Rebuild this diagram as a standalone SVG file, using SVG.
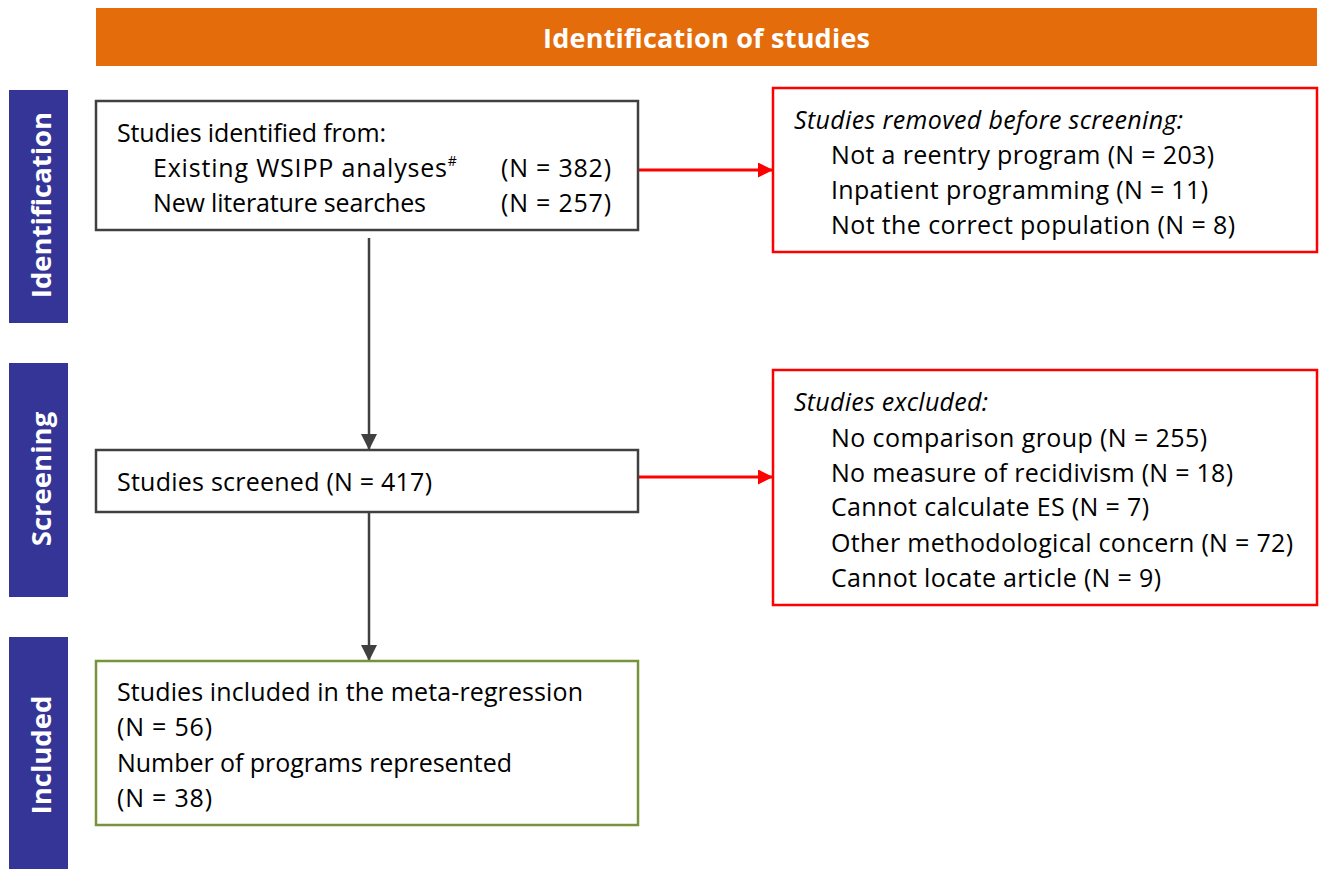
<svg xmlns="http://www.w3.org/2000/svg" width="1322" height="869" viewBox="0 0 1322 869">
<defs>
<style>
.t{font-family:"Open Sans","Noto Sans","DejaVu Sans",sans-serif;font-size:25px;fill:#000}
.i{font-style:italic}
.side{font-family:"Open Sans","Noto Sans","DejaVu Sans",sans-serif;font-size:27.5px;font-weight:bold;fill:#fff}
.hdr{font-family:"Open Sans","Noto Sans","DejaVu Sans",sans-serif;font-size:27px;font-weight:bold;fill:#fff}
.bar{fill:#353597}
.box{fill:#fff;stroke:#404040;stroke-width:2.5}
.rbox{fill:#fff;stroke:#ff0000;stroke-width:2.5}
.gbox{fill:#fff;stroke:#77933c;stroke-width:2.5}
.ga{stroke:#404040;stroke-width:2.5;fill:none}
.ra{stroke:#ff0000;stroke-width:3;fill:none}
</style>
<marker id="mg" viewBox="0 0 10 10" refX="10" refY="5" markerWidth="16" markerHeight="17" markerUnits="userSpaceOnUse" orient="auto"><path d="M0,0 L10,5 L0,10 z" fill="#404040"/></marker>
<marker id="mr" viewBox="0 0 10 10" refX="10" refY="5" markerWidth="16" markerHeight="15" markerUnits="userSpaceOnUse" orient="auto"><path d="M0,0 L10,5 L0,10 z" fill="#ff0000"/></marker>
</defs>
<rect width="1322" height="869" fill="#fff"/>
<g id="header">
<rect x="96" y="8" width="1221" height="58" fill="#e46c0a"/>
<text class="hdr" x="543" y="48" textLength="327">Identification of studies</text>
</g>
<g id="bar-identification">
<rect class="bar" x="9" y="90" width="59" height="233"/>
<text class="side" transform="translate(51,205) rotate(-90)" text-anchor="middle">Identification</text>
</g>
<g id="bar-screening">
<rect class="bar" x="9" y="363" width="59" height="234"/>
<text class="side" transform="translate(51,479) rotate(-90)" text-anchor="middle">Screening</text>
</g>
<g id="bar-included">
<rect class="bar" x="9" y="637" width="59" height="232"/>
<text class="side" transform="translate(51,755) rotate(-90)" text-anchor="middle">Included</text>
</g>
<g id="connectors">
<line class="ga" x1="369" y1="238" x2="369" y2="450" marker-end="url(#mg)"/>
<line class="ga" x1="369" y1="512" x2="369" y2="661" marker-end="url(#mg)"/>
<line class="ra" x1="638" y1="170" x2="773" y2="170" marker-end="url(#mr)"/>
<line class="ra" x1="638" y1="477" x2="773" y2="477" marker-end="url(#mr)"/>
</g>
<g id="identified">
<rect class="box" x="96" y="101" width="542" height="129"/>
<text class="t" x="117" y="142" textLength="269">Studies identified from:</text>
<text class="t" x="153" y="177"><tspan textLength="294">Existing WSIPP analyses</tspan><tspan font-size="14" dy="-11">#</tspan></text>
<text class="t" x="501" y="177" textLength="110">(N = 382)</text>
<text class="t" x="153" y="212" textLength="273">New literature searches</text>
<text class="t" x="501" y="212" textLength="110">(N = 257)</text>
</g>
<g id="removed">
<rect class="rbox" x="773" y="88" width="544" height="164"/>
<text class="t i" x="794" y="129" textLength="389">Studies removed before screening:</text>
<text class="t" x="831" y="164" textLength="383">Not a reentry program (N = 203)</text>
<text class="t" x="831" y="199" textLength="377">Inpatient programming (N = 11)</text>
<text class="t" x="831" y="234" textLength="404">Not the correct population (N = 8)</text>
</g>
<g id="screened">
<rect class="box" x="96" y="450" width="542" height="62"/>
<text class="t" x="117" y="491" textLength="315">Studies screened (N = 417)</text>
</g>
<g id="excluded">
<rect class="rbox" x="773" y="370" width="544" height="235"/>
<text class="t i" x="794" y="411" textLength="194">Studies excluded:</text>
<text class="t" x="831" y="447" textLength="376">No comparison group (N = 255)</text>
<text class="t" x="831" y="482" textLength="402">No measure of recidivism (N = 18)</text>
<text class="t" x="831" y="516" textLength="318">Cannot calculate ES (N = 7)</text>
<text class="t" x="831" y="552" textLength="462">Other methodological concern (N = 72)</text>
<text class="t" x="831" y="587" textLength="330">Cannot locate article (N = 9)</text>
</g>
<g id="included">
<rect class="gbox" x="96" y="661" width="542" height="164"/>
<text class="t" x="117" y="701" textLength="466">Studies included in the meta-regression</text>
<text class="t" x="117" y="736" textLength="95">(N = 56)</text>
<text class="t" x="117" y="772" textLength="395">Number of programs represented</text>
<text class="t" x="117" y="807" textLength="95">(N = 38)</text>
</g>
</svg>
